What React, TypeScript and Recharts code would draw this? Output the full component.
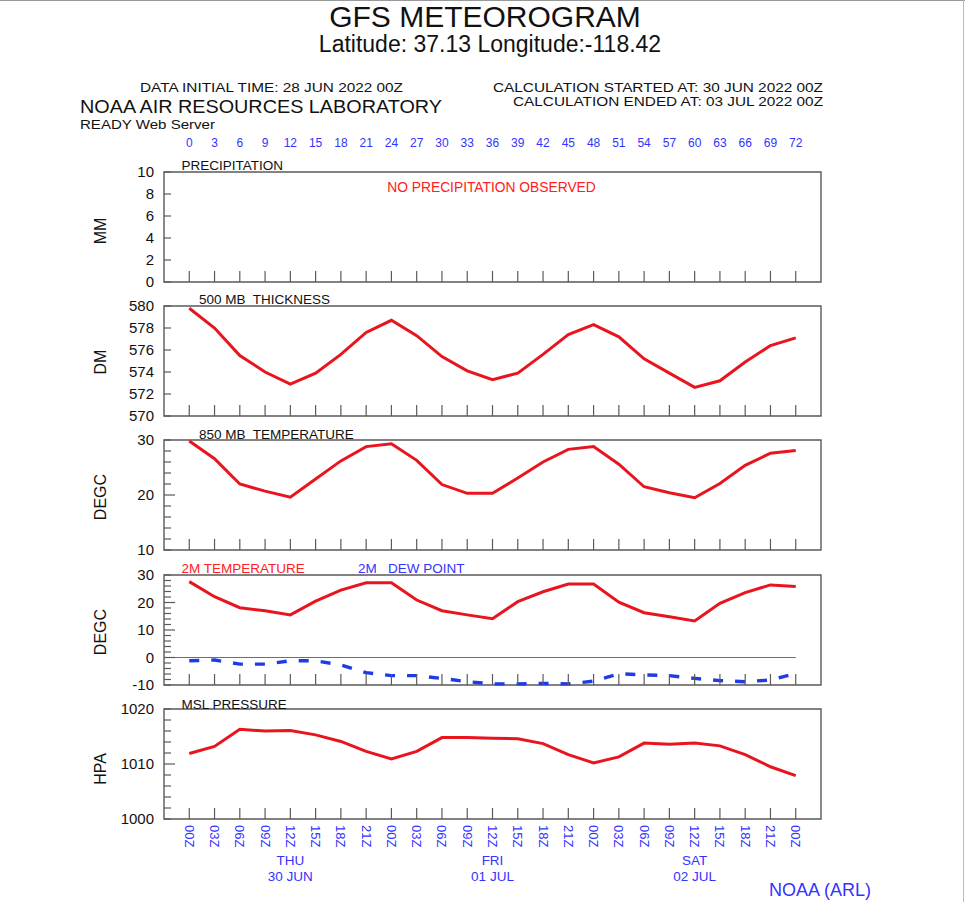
import { LineChart, Line, XAxis, YAxis, ReferenceArea, ReferenceLine } from 'recharts';

// forecast hours, 3-hourly from 30 JUN 00Z
const hours = [0, 3, 6, 9, 12, 15, 18, 21, 24, 27, 30, 33, 36, 39, 42, 45, 48, 51, 54, 57, 60, 63, 66, 69, 72];
const precip = [0, 0, 0, 0, 0, 0, 0, 0, 0, 0, 0, 0, 0, 0, 0, 0, 0, 0, 0, 0, 0, 0, 0, 0, 0];
const thickness = [579.8, 578.0, 575.5, 574.0, 572.9, 573.9, 575.6, 577.6, 578.7, 577.3, 575.4, 574.1, 573.3, 573.9, 575.6, 577.4, 578.3, 577.2, 575.2, 573.9, 572.6, 573.2, 574.9, 576.4, 577.1];
const temp850 = [29.8, 26.6, 22.0, 20.7, 19.6, 22.9, 26.2, 28.8, 29.3, 26.3, 21.9, 20.3, 20.3, 23.1, 26.0, 28.3, 28.8, 25.6, 21.5, 20.4, 19.5, 22.1, 25.4, 27.6, 28.1];
const temp2m = [27.6, 22.1, 18.1, 17.0, 15.5, 20.5, 24.5, 27.2, 27.2, 20.9, 17.0, 15.5, 14.1, 20.3, 23.9, 26.7, 26.7, 20.1, 16.3, 14.8, 13.3, 19.7, 23.6, 26.4, 25.8];
const dewPoint = [-1.2, -0.9, -2.4, -2.4, -1.2, -1.2, -2.7, -5.5, -6.6, -6.6, -7.6, -8.8, -9.6, -9.6, -9.4, -9.6, -8.6, -5.9, -6.3, -6.6, -7.6, -8.4, -8.8, -8.2, -5.8];
const mslPressure = [1011.9, 1013.2, 1016.3, 1016.0, 1016.1, 1015.3, 1014.1, 1012.3, 1010.9, 1012.3, 1014.8, 1014.8, 1014.7, 1014.6, 1013.7, 1011.7, 1010.2, 1011.3, 1013.8, 1013.6, 1013.8, 1013.3, 1011.7, 1009.5, 1007.9];

// day labels under the bottom axis
const dayHours = [12, 36, 60];
const dayNames = ['THU', 'FRI', 'SAT'];
const dayDates = ['30 JUN', '01 JUL', '02 JUL'];

const rows = hours.map((h, i) => ({
  hour: h,
  precip: precip[i],
  thick: thickness[i],
  t850: temp850[i],
  t2m: temp2m[i],
  dew: dewPoint[i],
  msl: mslPressure[i],
}));

const W = 965;
const PLOT_L = 164;
const PLOT_R = 821;
const PANEL_H = 110;
const FONT = '"Liberation Sans", Arial, Helvetica, sans-serif';
const RED = '#e8141e';
const RED_TEXT = '#ff2020';
const BLUE = '#1f3be8';
const BLUE_TEXT = '#3333ff';
const FRAME = '#5a5a5a';
const X_DOMAIN: [number, number] = [-3, 75];

const hourLabel = (v: number) => `${String(v % 24).padStart(2, '0')}Z`;

const leftTick = (labels: number[], long: number[]) => (props: any) => {
  const { x, y, payload } = props;
  const v = payload.value;
  const len = long.includes(v) ? 11 : 7;
  return (
    <g>
      <line x1={x} y1={y} x2={x + len} y2={y} stroke={FRAME} strokeWidth={1.2} />
      {labels.includes(v) && (
        <text x={x - 10} y={y} dy="0.36em" textAnchor="end" fontSize={15} fill="#111" fontFamily={FONT}>
          {v}
        </text>
      )}
    </g>
  );
};

const rightTick = (long: number[]) => (props: any) => {
  const { x, y, payload } = props;
  const len = long.includes(payload.value) ? 11 : 8;
  return <line x1={x} y1={y} x2={x - len} y2={y} stroke={FRAME} strokeWidth={1.2} />;
};

const bottomTick = (withLabels: boolean) => (props: any) => {
  const { x, y, payload } = props;
  const v = payload.value;
  const di = dayHours.indexOf(v);
  return (
    <g>
      <line x1={x} y1={y} x2={x} y2={y - 11} stroke={FRAME} strokeWidth={1.2} />
      {withLabels && (
        <text
          x={x}
          y={y + 6}
          transform={`rotate(90, ${x}, ${y + 6})`}
          dominantBaseline="central"
          fontSize={13}
          fill={BLUE_TEXT}
          fontFamily={FONT}
        >
          {hourLabel(v)}
        </text>
      )}
      {withLabels && di >= 0 && (
        <g fontSize={13.5} fill={BLUE_TEXT} fontFamily={FONT} textAnchor="middle">
          <text x={x} y={y + 46}>{dayNames[di]}</text>
          <text x={x} y={y + 62}>{dayDates[di]}</text>
        </g>
      )}
    </g>
  );
};

const topTick = (props: any) => {
  const { x, y, payload } = props;
  return (
    <text x={x} y={y - 25} textAnchor="middle" fontSize={12} fill={BLUE_TEXT} fontFamily={FONT}>
      {payload.value}
    </text>
  );
};

interface PanelProps {
  top: number;
  domain: [number, number];
  ticks: number[];
  labels: number[];
  long?: number[];
  topAxis?: boolean;
  bottomLabels?: boolean;
  children?: React.ReactNode;
}

function Panel({ top, domain, ticks, labels, long = [], topAxis = false, bottomLabels = false, children }: PanelProps) {
  const topAxisH = topAxis ? 30 : 0;
  const mt = topAxis ? 40 : 10;
  const xAxisH = bottomLabels ? 75 : 30;
  const mb = bottomLabels ? 80 : 30;
  const leftW = 60;
  const rightW = 20;
  return (
    <div style={{ position: 'absolute', left: 0, top: top - mt, width: W, height: PANEL_H + mt + mb }}>
      <LineChart
        width={W}
        height={PANEL_H + mt + mb}
        data={rows}
        margin={{ top: mt - topAxisH, bottom: mb - xAxisH, left: PLOT_L - leftW, right: W - PLOT_R - rightW }}
      >
        <XAxis
          dataKey="hour"
          type="number"
          domain={X_DOMAIN}
          ticks={hours}
          height={xAxisH}
          axisLine={false}
          tickLine={false}
          tickSize={0}
          tickMargin={0}
          interval={0}
          tick={bottomTick(bottomLabels)}
        />
        {topAxis && (
          <XAxis
            xAxisId="top"
            orientation="top"
            dataKey="hour"
            type="number"
            domain={X_DOMAIN}
            ticks={hours}
            height={topAxisH}
            axisLine={false}
            tickLine={false}
            tickSize={0}
            tickMargin={0}
            interval={0}
            tick={topTick}
          />
        )}
        <YAxis
          type="number"
          domain={domain}
          ticks={ticks}
          width={leftW}
          axisLine={false}
          tickLine={false}
          tickSize={0}
          tickMargin={0}
          interval={0}
          tick={leftTick(labels, long)}
        />
        <YAxis
          yAxisId="r"
          orientation="right"
          type="number"
          domain={domain}
          ticks={ticks}
          width={rightW}
          axisLine={false}
          tickLine={false}
          tickSize={0}
          tickMargin={0}
          interval={0}
          tick={rightTick(long)}
        />
        <ReferenceArea x1={X_DOMAIN[0]} x2={X_DOMAIN[1]} y1={domain[0]} y2={domain[1]} fill="none" stroke={FRAME} strokeWidth={1.4} />
        {children}
      </LineChart>
    </div>
  );
}

const tops = [172, 306, 440, 575, 709];

export default function App() {
  const txt = { fontFamily: FONT } as const;
  return (
    <div style={{ position: 'absolute', left: 0, top: 0, width: W, height: 902, background: '#fff', overflow: 'hidden' }}>
      <Panel top={tops[0]} domain={[0, 10]} ticks={[0, 2, 4, 6, 8, 10]} labels={[0, 2, 4, 6, 8, 10]} topAxis>
        {/* no precipitation: series kept but not stroked */}
        <Line dataKey="precip" stroke="none" dot={false} isAnimationActive={false} />
      </Panel>

      <Panel top={tops[1]} domain={[570, 580]} ticks={[570, 572, 574, 576, 578, 580]} labels={[570, 572, 574, 576, 578, 580]}>
        <Line dataKey="thick" stroke={RED} strokeWidth={3} dot={false} isAnimationActive={false} />
      </Panel>

      <Panel top={tops[2]} domain={[10, 30]} ticks={[10, 12, 14, 16, 18, 20, 22, 24, 26, 28, 30]} labels={[10, 20, 30]} long={[20]}>
        <Line dataKey="t850" stroke={RED} strokeWidth={3} dot={false} isAnimationActive={false} />
      </Panel>

      <Panel
        top={tops[3]}
        domain={[-10, 30]}
        ticks={[-10, -8, -6, -4, -2, 0, 2, 4, 6, 8, 10, 12, 14, 16, 18, 20, 22, 24, 26, 28, 30]}
        labels={[-10, 0, 10, 20, 30]}
        long={[0, 10, 20]}
      >
        <ReferenceLine segment={[{ x: -3, y: 0 }, { x: 72, y: 0 }]} stroke="#5a5aff" strokeWidth={1} />
        <Line dataKey="t2m" stroke={RED} strokeWidth={3} dot={false} isAnimationActive={false} />
        <Line dataKey="dew" stroke={BLUE} strokeWidth={3.4} strokeDasharray="10 12" dot={false} isAnimationActive={false} />
      </Panel>

      <Panel
        top={tops[4]}
        domain={[1000, 1020]}
        ticks={[1000, 1002, 1004, 1006, 1008, 1010, 1012, 1014, 1016, 1018, 1020]}
        labels={[1000, 1010, 1020]}
        long={[1010]}
        bottomLabels
      >
        <Line dataKey="msl" stroke={RED} strokeWidth={3} dot={false} isAnimationActive={false} />
      </Panel>

      <svg width={W} height={902} style={{ position: 'absolute', left: 0, top: 0, pointerEvents: 'none' }}>
        <line x1={0} y1={0.5} x2={W} y2={0.5} stroke="#999" />
        <line x1={963.5} y1={0} x2={963.5} y2={902} stroke="#bbb" />

        <text x={485} y={27} textAnchor="middle" fontSize={30} fill="#111" {...txt}>GFS METEOROGRAM</text>
        <text x={490} y={52} textAnchor="middle" fontSize={23} fill="#111" {...txt}>Latitude: 37.13 Longitude:-118.42</text>

        <text x={140} y={92} fontSize={13.5} textLength={263} lengthAdjust="spacingAndGlyphs" fill="#111" {...txt}>DATA INITIAL TIME: 28 JUN 2022 00Z</text>
        <text x={80} y={113} fontSize={18.5} textLength={362} lengthAdjust="spacingAndGlyphs" fill="#111" {...txt}>NOAA AIR RESOURCES LABORATORY</text>
        <text x={80} y={128.5} fontSize={13} textLength={135} lengthAdjust="spacingAndGlyphs" fill="#111" {...txt}>READY Web Server</text>
        <text x={823} y={91.5} textAnchor="end" fontSize={13} fill="#111" {...txt}>
          <tspan x={493} textLength={330} lengthAdjust="spacingAndGlyphs" textAnchor="start">CALCULATION STARTED AT: 30 JUN 2022 00Z</tspan>
        </text>
        <text x={513} y={106} fontSize={13} textLength={310} lengthAdjust="spacingAndGlyphs" fill="#111" {...txt}>CALCULATION ENDED AT: 03 JUL 2022 00Z</text>

        <text x={181.5} y={170} fontSize={13.5} fill="#111" {...txt}>PRECIPITATION</text>
        <text x={491.5} y={192} textAnchor="middle" fontSize={13.8} fill={RED_TEXT} {...txt}>NO PRECIPITATION OBSERVED</text>
        <text x={199} y={304} fontSize={13.5} fill="#111" {...txt} xmlSpace="preserve">500 MB  THICKNESS</text>
        <text x={199} y={438.5} fontSize={13.5} fill="#111" {...txt} xmlSpace="preserve">850 MB  TEMPERATURE</text>
        <text x={181.5} y={573} fontSize={13.5} fill={RED_TEXT} {...txt}>2M TEMPERATURE</text>
        <text x={358} y={573} fontSize={13.5} fill={BLUE_TEXT} {...txt}>2M</text>
        <text x={388} y={573} fontSize={13.5} fill={BLUE_TEXT} {...txt}>DEW POINT</text>
        <text x={181.5} y={709} fontSize={13.5} fill="#111" {...txt}>MSL PRESSURE</text>

        {[
          ['MM', 231],
          ['DM', 362],
          ['DEGC', 497],
          ['DEGC', 632],
          ['HPA', 769],
        ].map(([t, cy]) => (
          <text
            key={`${t}-${cy}`}
            x={100}
            y={cy as number}
            transform={`rotate(-90, 100, ${cy})`}
            textAnchor="middle"
            dominantBaseline="central"
            fontSize={16}
            fill="#111"
            {...txt}
          >
            {t}
          </text>
        ))}

        <text x={769} y={896} fontSize={18} fill={BLUE_TEXT} {...txt}>NOAA (ARL)</text>
      </svg>
    </div>
  );
}
